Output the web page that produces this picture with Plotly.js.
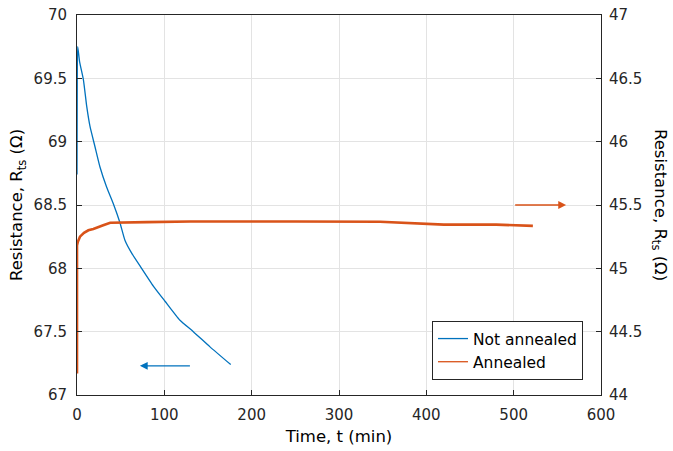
<!DOCTYPE html>
<html><head><meta charset="utf-8">
<script src="https://cdn.plot.ly/plotly-3.0.1.min.js"></script>
<style>html,body{margin:0;padding:0;background:#fff}#plot{width:673px;height:451px}</style>
</head><body><div id="plot"></div>
<script>
// Not annealed (left axis)
const blueT = [0, 0.3, 0.8, 3, 7.3, 11.1, 14.9, 20.6, 26.3, 34, 41.6, 49.2, 55, 62.6, 73, 87.4, 100.8, 117.9, 133.2, 152.3, 176];
const blueV = [68.74, 69.5, 69.75, 69.63, 69.49, 69.28, 69.12, 68.96, 68.80, 68.64, 68.51, 68.36, 68.22, 68.12, 68.01, 67.86, 67.74, 67.59, 67.50, 67.38, 67.24];
// Annealed (right axis)
const orT = [0, 0, 1, 3.4, 8, 13, 18.7, 25, 30, 38, 50, 80, 130, 175, 250, 347, 370, 400, 420, 480, 500, 522];
const orV = [44.17, 45.18, 45.21, 45.25, 45.28, 45.30, 45.31, 45.33, 45.34, 45.36, 45.36, 45.365, 45.37, 45.368, 45.37, 45.368, 45.36, 45.35, 45.345, 45.345, 45.342, 45.335];
// arrows: [tailX, headX, y]
const blueArrow = [131, 72, 67.23];
const orArrow = [500, 560, 45.5];

const fam = 'DejaVu Sans, sans-serif';
const tickFont = {family: fam, size: 15, color: '#262626'};
const titleFont = {family: fam, size: 16.5, color: '#000'};
const data = [
  {x: blueT, y: blueV, type: 'scatter', mode: 'lines', name: 'Not annealed', line: {color: '#0072BD', width: 1.3, shape: 'spline', smoothing: 0.5}, yaxis: 'y'},
  {x: orT, y: orV, type: 'scatter', mode: 'lines', name: 'Annealed', showlegend: false, line: {color: '#D95319', width: 2.6}, yaxis: 'y2'},
  {x: [null], y: [null], type: 'scatter', mode: 'lines', name: 'Annealed', line: {color: '#D95319', width: 1.3}, yaxis: 'y2'}
];
const layout = {
  width: 673, height: 451,
  margin: {l: 77, r: 72, t: 15, b: 56},
  paper_bgcolor: '#fff', plot_bgcolor: '#fff',
  font: tickFont,
  showlegend: true,
  legend: {x: 0.9656, y: 0.0395, xanchor: 'right', yanchor: 'bottom', bgcolor: '#fff', bordercolor: '#262626', borderwidth: 1, font: {family: fam, size: 15.5, color: '#000'}, tracegroupgap: 0, itemwidth: 30},
  xaxis: {range: [0, 600], dtick: 100, showgrid: true, gridcolor: '#e3e3e3', zeroline: false, showline: true, linecolor: '#262626', mirror: true, ticks: 'inside', ticklen: 5, tickcolor: '#262626', tickfont: tickFont, ticklabelstandoff: 6,
    title: {text: 'Time, t (min)', font: titleFont, standoff: 7}},
  yaxis: {range: [67, 70], dtick: 0.5, showgrid: true, gridcolor: '#e3e3e3', zeroline: false, showline: true, linecolor: '#262626', ticks: 'inside', ticklen: 5, tickcolor: '#262626', tickfont: tickFont, ticklabelstandoff: 6,
    title: {text: 'Resistance, R<sub>ts</sub> (Ω)', font: titleFont, standoff: 6}},
  yaxis2: {range: [44, 47], dtick: 0.5, overlaying: 'y', side: 'right', showgrid: false, zeroline: false, showline: true, linecolor: '#262626', ticks: 'inside', ticklen: 5, tickcolor: '#262626', tickfont: tickFont, ticklabelstandoff: 4},
  annotations: [
    {xref: 'x', yref: 'y', axref: 'x', ayref: 'y', x: blueArrow[1], y: blueArrow[2], ax: blueArrow[0], ay: blueArrow[2], showarrow: true, arrowhead: 2, arrowsize: 1.2, arrowwidth: 1.3, arrowcolor: '#0072BD', text: ''},
    {xref: 'x', yref: 'y2', axref: 'x', ayref: 'y2', x: orArrow[1], y: orArrow[2], ax: orArrow[0], ay: orArrow[2], showarrow: true, arrowhead: 2, arrowsize: 1.2, arrowwidth: 1.3, arrowcolor: '#D95319', text: ''},
    {xref: 'paper', yref: 'paper', x: 1.1126, y: 0.5, xanchor: 'center', yanchor: 'middle', textangle: 90, showarrow: false, text: 'Resistance, R<sub>ts</sub> (Ω)', font: titleFont}
  ]
};
Plotly.newPlot('plot', data, layout, {displayModeBar: false, staticPlot: true});
</script></body></html>
